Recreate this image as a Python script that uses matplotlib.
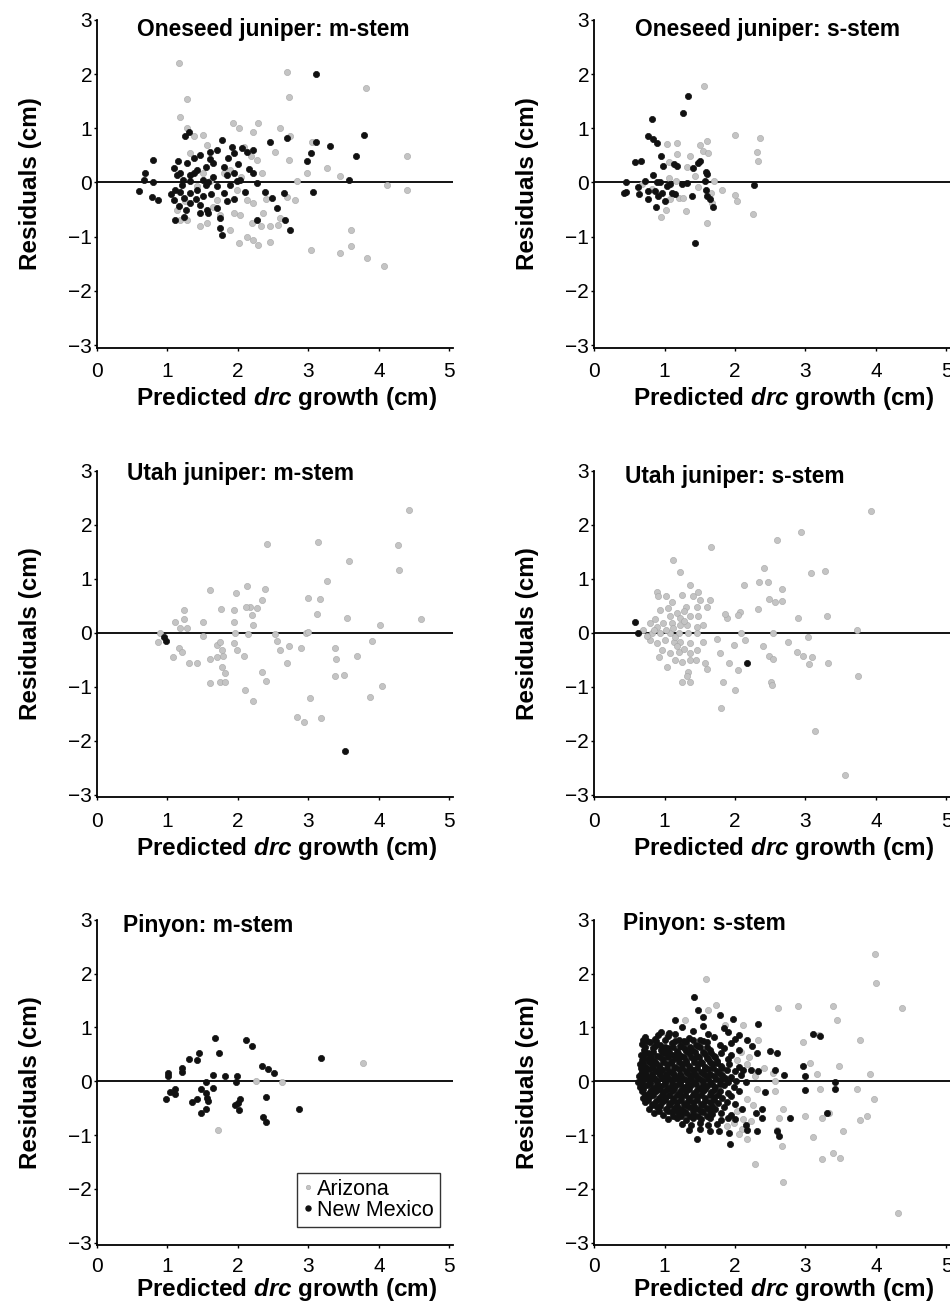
"""Residual plots for drc growth models, three species x two stem forms."""
import matplotlib
matplotlib.use("Agg")
import matplotlib.pyplot as plt
from matplotlib.lines import Line2D

plt.rcParams["font.family"] = "Liberation Sans"
plt.rcParams["mathtext.fontset"] = "custom"
plt.rcParams["mathtext.it"] = "Liberation Sans:italic:bold"

AZ_COLOR = "#c4c4c4"
AZ_EDGE = "#a6a6a6"
NM_COLOR = "#111111"

# --- Oneseed juniper, m-stem -------------------------------------------------
om_az = [(1.16, 2.20), (1.28, 1.55), (1.18, 1.20), (2.70, 2.04), (2.73, 1.57), (3.82, 1.75),
         (1.28, 1.00), (1.93, 1.10), (2.01, 1.00), (2.21, 0.94), (2.60, 1.00), (1.50, 0.88),
         (1.37, 0.85), (1.56, 0.69), (1.32, 0.54), (2.08, 0.66), (2.53, 0.57), (2.72, 0.42),
         (3.05, 0.75), (3.27, 0.26), (2.98, 0.17), (3.45, 0.12), (4.40, 0.49), (4.12, -0.04),
         (4.40, -0.13), (2.84, 0.02), (2.81, -0.32), (2.70, -0.26), (2.34, 0.17), (2.27, 0.42),
         (1.70, -0.32), (1.94, -0.56), (2.13, -0.32), (2.22, -0.38), (2.36, -0.56), (2.60, -0.66),
         (2.46, -0.81), (2.20, -0.75), (2.32, -0.81), (1.89, -0.87), (1.46, -0.81), (1.56, -0.75),
         (1.28, -0.69), (1.13, -0.50), (2.01, -1.12), (2.13, -1.01), (2.22, -1.06), (2.29, -1.15),
         (2.46, -1.09), (3.03, -1.24), (3.60, -0.87), (3.60, -1.18), (3.45, -1.31), (3.83, -1.39),
         (4.07, -1.55), (1.42, -0.07), (1.61, 0.02), (1.80, 0.17), (1.99, -0.13), (1.89, 0.23),
         (1.51, 0.17), (2.18, 0.48), (1.65, -0.45), (1.75, -0.60), (2.40, -0.30), (1.25, -0.35),
         (2.05, 0.10), (2.29, 1.10), (2.74, 0.85), (2.03, -0.60), (2.57, -0.78), (1.18, -0.69)]
om_nm = [(3.11, 2.00), (3.79, 0.88), (3.10, 0.74), (3.31, 0.67), (3.03, 0.54), (3.68, 0.48),
         (2.98, 0.40), (2.70, 0.83), (2.45, 0.74), (3.57, 0.05), (3.07, -0.17), (2.74, -0.87),
         (2.67, -0.69), (2.55, -0.47), (2.65, -0.20), (2.48, -0.29), (2.39, -0.17), (2.27, -0.70),
         (2.22, 0.18), (2.13, 0.57), (2.22, 0.60), (2.06, 0.63), (1.91, 0.66), (1.94, 0.54),
         (1.77, 0.79), (1.70, 0.60), (1.61, 0.57), (1.46, 0.51), (1.30, 0.94), (1.25, 0.85),
         (0.80, 0.42), (0.68, 0.17), (0.66, 0.05), (0.80, 0.00), (0.60, -0.15), (0.78, -0.26),
         (0.87, -0.32), (1.09, 0.26), (1.18, 0.17), (1.28, 0.36), (1.32, 0.14), (1.42, 0.23),
         (1.54, 0.29), (1.65, 0.36), (1.80, 0.29), (1.84, 0.14), (1.94, 0.17), (2.03, 0.05),
         (1.11, -0.13), (1.18, -0.17), (1.09, -0.32), (1.23, -0.29), (1.32, -0.20), (1.42, -0.13),
         (1.54, -0.04), (1.58, 0.00), (1.70, -0.07), (1.80, -0.20), (1.89, -0.04), (1.99, 0.02),
         (1.16, -0.44), (1.32, -0.38), (1.46, -0.41), (1.56, -0.50), (1.58, -0.56), (1.70, -0.47),
         (1.84, -0.35), (1.11, -0.69), (1.23, -0.63), (1.75, -0.66), (1.75, -0.84), (1.77, -0.96),
         (1.46, -0.56), (2.10, -0.18), (2.27, -0.01), (1.37, 0.17), (1.13, 0.14), (1.32, 0.02),
         (1.20, -0.05), (1.50, 0.05), (1.65, 0.10), (1.40, -0.30), (1.15, 0.40), (1.38, 0.45),
         (1.60, 0.44), (1.86, 0.45), (2.00, 0.35), (1.05, -0.22), (1.26, -0.50), (1.50, -0.25),
         (1.62, -0.22), (1.95, -0.30), (2.15, 0.25), (1.22, 0.05)]

# --- Oneseed juniper, s-stem -------------------------------------------------
os_az = [(1.56, 1.79), (2.00, 0.88), (2.35, 0.83), (2.31, 0.57), (2.33, 0.40), (1.03, 0.71),
         (1.18, 0.73), (1.18, 0.52), (1.36, 0.49), (1.51, 0.69), (1.60, 0.77), (1.55, 0.59),
         (1.62, 0.54), (1.07, 0.37), (1.32, 0.28), (1.43, 0.12), (1.06, 0.09), (1.16, 0.03),
         (1.70, 0.03), (1.81, -0.14), (2.00, -0.23), (2.03, -0.34), (2.26, -0.59), (1.60, -0.75),
         (1.67, -0.37), (1.66, -0.19), (1.31, -0.53), (1.02, -0.51), (0.95, -0.64), (1.08, -0.31),
         (1.20, -0.28), (1.26, -0.28), (0.82, -0.12), (1.48, -0.09), (0.68, -0.03)]
os_nm = [(1.33, 1.59), (0.82, 1.17), (1.26, 1.28), (0.77, 0.86), (0.84, 0.81), (0.90, 0.73),
         (0.58, 0.38), (0.67, 0.39), (0.95, 0.48), (0.98, 0.31), (1.13, 0.34), (1.18, 0.31),
         (1.51, 0.40), (1.47, 0.36), (1.41, 0.26), (1.59, 0.20), (1.60, 0.15), (0.45, 0.01),
         (0.42, -0.19), (0.46, -0.17), (0.63, -0.09), (0.64, -0.22), (0.72, 0.03), (0.83, 0.14),
         (0.77, -0.15), (0.77, -0.30), (0.87, -0.15), (0.89, 0.00), (0.94, 0.01), (0.91, -0.25),
         (0.96, -0.20), (1.01, -0.35), (0.88, -0.46), (1.08, -0.03), (1.10, -0.19), (1.15, -0.22),
         (1.25, -0.03), (1.32, -0.01), (1.39, -0.25), (1.58, 0.03), (1.59, -0.14), (1.60, -0.25),
         (1.64, -0.30), (1.69, -0.46), (1.43, -1.11), (2.27, -0.05), (1.03, -0.06)]

# --- Utah juniper, m-stem ----------------------------------------------------
um_az = [(4.43, 2.28), (4.27, 1.62), (4.28, 1.16), (4.60, 0.25), (4.01, 0.14), (3.90, -0.15),
         (3.69, -0.43), (3.38, -0.29), (3.39, -0.49), (3.38, -0.80), (3.51, -0.78), (4.04, -0.98),
         (3.88, -1.20), (3.02, -1.22), (2.84, -1.57), (2.93, -1.66), (3.18, -1.59), (3.14, 1.67),
         (3.57, 1.33), (3.27, 0.96), (3.00, 0.64), (3.17, 0.62), (3.12, 0.35), (3.55, 0.28),
         (2.97, 0.00), (3.00, 0.02), (2.89, -0.29), (2.73, -0.25), (2.69, -0.57), (2.60, -0.32),
         (2.55, -0.15), (2.53, -0.02), (2.41, 1.64), (2.38, 0.80), (2.34, 0.60), (2.27, 0.45),
         (2.20, 0.33), (2.22, 0.14), (2.17, 0.48), (2.13, 0.86), (2.12, 0.48), (1.97, 0.73),
         (1.95, 0.41), (1.95, 0.20), (1.96, 0.00), (2.14, -0.02), (1.61, 0.79), (1.76, 0.43),
         (1.50, 0.19), (1.51, -0.07), (1.24, 0.42), (1.11, 0.20), (1.23, 0.25), (1.18, 0.08),
         (1.27, 0.08), (0.90, 0.00), (0.87, -0.17), (1.08, -0.46), (1.17, -0.29), (1.20, -0.35),
         (1.30, -0.57), (1.42, -0.57), (1.70, -0.23), (1.75, -0.17), (1.77, -0.33), (1.61, -0.48),
         (1.70, -0.46), (1.79, -0.44), (1.77, -0.63), (1.81, -0.75), (1.60, -0.93), (1.75, -0.91),
         (1.82, -0.91), (1.94, -0.19), (1.98, -0.32), (2.09, -0.43), (2.10, -1.07), (2.21, -1.26),
         (2.34, -0.72), (2.40, -0.89)]
um_nm = [(0.95, -0.08), (0.98, -0.15), (3.52, -2.20)]

# --- Utah juniper, s-stem ----------------------------------------------------
us_az = [(3.93, 2.25), (2.94, 1.87), (2.59, 1.72), (1.66, 1.58), (1.12, 1.35), (1.22, 1.12),
         (2.41, 1.20), (3.08, 1.10), (3.27, 1.15), (2.13, 0.88), (2.34, 0.94), (2.47, 0.93),
         (2.67, 0.81), (2.48, 0.62), (2.57, 0.57), (2.67, 0.59), (2.33, 0.43), (2.07, 0.39),
         (2.04, 0.33), (1.89, 0.27), (1.86, 0.35), (2.90, 0.27), (3.30, 0.31), (3.73, 0.04),
         (2.54, 0.00), (2.08, 0.00), (3.04, -0.09), (2.75, -0.17), (2.88, -0.35), (2.97, -0.44),
         (3.09, -0.46), (3.05, -0.58), (3.32, -0.56), (3.75, -0.80), (2.39, -0.25), (2.48, -0.44),
         (2.54, -0.49), (2.51, -0.91), (2.52, -0.97), (2.14, -0.14), (1.99, -0.23), (1.78, -0.38),
         (1.75, -0.12), (1.91, -0.57), (2.04, -0.69), (1.83, -0.91), (2.00, -1.07), (1.80, -1.39),
         (3.14, -1.83), (3.56, -2.64),
         (0.89, 0.76), (0.91, 0.67), (1.02, 0.68), (0.94, 0.42), (1.10, 0.56), (1.25, 0.70),
         (1.36, 0.88), (1.40, 0.67), (1.48, 0.76), (1.51, 0.60), (1.65, 0.60), (1.60, 0.48),
         (1.46, 0.48), (1.31, 0.48), (1.18, 0.36), (1.08, 0.30), (1.22, 0.28), (1.36, 0.30),
         (1.48, 0.30), (0.80, 0.17), (0.89, 0.11), (0.98, 0.17), (1.10, 0.17), (1.22, 0.14),
         (1.32, 0.14), (1.46, 0.11), (1.55, 0.14), (0.70, 0.05), (0.82, -0.01), (0.94, -0.01),
         (1.08, -0.01), (1.20, 0.00), (1.34, -0.01), (1.46, -0.01), (0.80, -0.14), (0.89, -0.20),
         (1.01, -0.14), (1.13, -0.17), (1.22, -0.17), (1.36, -0.19), (1.55, -0.17), (0.96, -0.32),
         (1.08, -0.37), (1.20, -0.35), (1.36, -0.38), (1.46, -0.33), (1.03, -0.63), (1.15, -0.51),
         (1.25, -0.54), (1.36, -0.51), (1.44, -0.51), (1.58, -0.57), (1.60, -0.68), (1.34, -0.72),
         (1.25, -0.91), (1.36, -0.91), (1.32, -0.81), (0.86, 0.25), (1.02, 0.05), (1.15, -0.08),
         (1.28, 0.22), (0.75, -0.06), (1.12, 0.08), (0.92, -0.45), (1.05, 0.45), (1.28, 0.40),
         (1.18, -0.25), (1.28, -0.30), (0.85, 0.05)]
us_nm = [(0.58, 0.19), (0.63, -0.01), (2.17, -0.56)]

# --- Pinyon, m-stem ----------------------------------------------------------
pm_az = [(3.77, 0.34), (2.26, 0.01), (2.62, -0.02), (1.71, -0.90)]
pm_nm = [(1.67, 0.80), (2.12, 0.77), (2.20, 0.66), (1.31, 0.42), (1.42, 0.40), (1.45, 0.52),
         (1.73, 0.52), (1.20, 0.25), (1.21, 0.17), (1.01, 0.15), (1.01, 0.09), (1.64, 0.12),
         (1.82, 0.09), (1.98, 0.09), (1.97, -0.02), (2.34, 0.28), (2.43, 0.22), (2.51, 0.15),
         (3.18, 0.43), (1.54, -0.02), (1.03, -0.20), (1.10, -0.15), (1.10, -0.23), (0.98, -0.34),
         (1.48, -0.14), (1.54, -0.22), (1.64, -0.12), (1.56, -0.31), (1.58, -0.37), (1.35, -0.39),
         (1.42, -0.33), (1.55, -0.51), (1.47, -0.59), (2.03, -0.33), (2.00, -0.41), (1.96, -0.45),
         (2.02, -0.54), (2.40, -0.29), (2.35, -0.66), (2.40, -0.76), (2.86, -0.51)]

# --- Pinyon, s-stem ----------------------------------------------------------
ps_az = [(3.99, 2.36), (4.00, 1.82), (4.37, 1.36), (1.59, 1.90), (1.73, 1.42), (1.62, 1.33),
         (2.61, 1.35), (2.89, 1.39), (3.39, 1.39), (3.45, 1.13), (3.78, 0.76), (2.96, 0.72),
         (3.19, 0.86), (3.47, 0.28), (3.91, 0.14), (3.97, -0.34), (3.73, -0.14), (3.21, -0.15),
         (3.16, 0.14), (3.07, 0.34), (3.87, -0.64), (3.77, -0.72), (3.53, -0.93), (3.33, -0.59),
         (3.23, -0.68), (3.11, -1.03), (3.23, -1.44), (3.39, -1.34), (3.49, -1.42), (4.31, -2.44),
         (2.68, -1.87), (2.29, -1.53), (2.67, -1.20), (2.59, -0.90), (2.62, -0.68), (2.68, -0.52),
         (2.99, -0.65), (2.57, -0.19), (2.57, 0.00), (2.54, 0.15), (2.41, 0.25), (2.33, 0.77),
         (2.12, 1.05), (1.86, 1.05), (1.29, 1.14), (2.03, 0.40), (2.17, 0.31), (2.29, 0.09),
         (2.31, -0.15), (2.17, -0.34), (2.03, -0.56), (1.98, -0.77), (2.17, -1.08), (2.12, -0.71),
         (2.22, -0.74), (0.82, 0.68), (1.03, 0.86), (2.08, 0.55), (2.20, 0.45), (2.25, -0.45),
         (2.10, -0.88), (2.05, -0.98), (1.88, -0.84)]
ps_nm = [(1.42, 1.57), (1.48, 1.33), (1.55, 1.20), (1.79, 1.22), (1.97, 1.15), (2.32, 1.07),
         (1.15, 1.14), (0.70, 0.77), (0.91, 0.85), (1.06, 0.90), (3.11, 0.88), (3.20, 0.83),
         (2.97, 0.28), (3.00, 0.09), (3.00, -0.17), (3.42, -0.02), (3.42, -0.15), (3.31, -0.59),
         (2.78, -0.68), (2.63, -1.02), (2.60, -0.93), (2.49, 0.56), (2.60, 0.52), (2.57, 0.20),
         (2.69, 0.12), (2.43, -0.20), (2.31, -0.93), (2.17, -0.90), (1.93, -1.17), (1.91, -0.96),
         (1.46, -1.08), (1.77, -0.93), (2.38, -0.52), (2.38, -0.68), (2.33, 0.19), (2.22, 0.20),
         (2.31, 0.52), (2.17, 0.77), (2.24, 0.65),
         # dense core of the cloud
         (1.25, 1.00), (1.55, 1.02), (1.85, 0.98),
         (0.95, 0.92), (1.15, 0.88), (1.40, 0.93), (1.62, 0.87), (1.90, 0.91), (2.05, 0.86),
         (0.72, 0.82), (0.86, 0.78), (1.05, 0.83), (1.21, 0.77), (1.35, 0.81), (1.50, 0.76),
         (1.70, 0.82), (2.00, 0.78),
         (0.68, 0.69), (0.79, 0.72), (0.93, 0.67), (1.10, 0.71), (1.22, 0.66), (1.31, 0.72),
         (1.45, 0.68), (1.60, 0.73), (1.78, 0.67), (1.95, 0.70),
         (0.71, 0.58), (0.83, 0.62), (0.95, 0.57), (1.05, 0.61), (1.17, 0.56), (1.28, 0.62),
         (1.39, 0.58), (1.50, 0.63), (1.65, 0.57), (1.85, 0.61), (2.05, 0.58),
         (0.66, 0.48), (0.77, 0.52), (0.89, 0.47), (1.00, 0.53), (1.12, 0.49), (1.24, 0.46),
         (1.35, 0.52), (1.46, 0.47), (1.58, 0.51), (1.70, 0.46), (1.80, 0.52), (1.95, 0.48),
         (0.68, 0.39), (0.76, 0.42), (0.85, 0.37), (0.98, 0.41), (1.10, 0.38), (1.21, 0.43),
         (1.30, 0.37), (1.42, 0.41), (1.52, 0.36), (1.62, 0.42), (1.75, 0.38), (1.90, 0.41),
         (0.65, 0.31), (0.72, 0.27), (0.82, 0.32), (0.92, 0.28), (1.03, 0.31), (1.15, 0.27),
         (1.25, 0.32), (1.35, 0.28), (1.48, 0.31), (1.58, 0.26), (1.68, 0.32), (1.80, 0.28),
         (1.92, 0.31), (2.05, 0.27),
         (0.68, 0.19), (0.78, 0.22), (0.88, 0.18), (0.97, 0.21), (1.08, 0.17), (1.20, 0.22),
         (1.30, 0.18), (1.40, 0.21), (1.52, 0.17), (1.62, 0.22), (1.75, 0.19), (1.88, 0.21),
         (2.00, 0.18), (2.12, 0.21),
         (0.64, 0.09), (0.74, 0.12), (0.84, 0.08), (0.94, 0.11), (1.04, 0.07), (1.14, 0.12),
         (1.24, 0.09), (1.36, 0.11), (1.46, 0.08), (1.58, 0.12), (1.70, 0.09), (1.82, 0.11),
         (1.95, 0.08), (2.08, 0.11),
         (0.62, -0.01), (0.70, 0.02), (0.80, -0.02), (0.90, 0.01), (1.00, -0.02), (1.10, 0.02),
         (1.22, -0.01), (1.32, 0.02), (1.42, -0.02), (1.55, 0.01), (1.65, -0.02), (1.78, 0.02),
         (1.90, -0.01), (2.02, 0.01), (2.15, -0.02),
         (0.65, -0.11), (0.75, -0.08), (0.85, -0.12), (0.95, -0.09), (1.06, -0.12), (1.16, -0.08),
         (1.28, -0.11), (1.38, -0.08), (1.50, -0.12), (1.60, -0.09), (1.72, -0.11), (1.85, -0.08),
         (1.98, -0.11),
         (0.68, -0.19), (0.78, -0.22), (0.88, -0.18), (0.98, -0.21), (1.10, -0.18), (1.20, -0.22),
         (1.30, -0.19), (1.42, -0.22), (1.55, -0.18), (1.66, -0.21), (1.78, -0.19), (1.90, -0.22),
         (2.05, -0.19),
         (0.70, -0.31), (0.80, -0.28), (0.92, -0.32), (1.02, -0.29), (1.12, -0.31), (1.24, -0.28),
         (1.35, -0.32), (1.46, -0.28), (1.58, -0.31), (1.70, -0.29), (1.82, -0.32), (1.95, -0.28),
         (0.72, -0.39), (0.84, -0.42), (0.96, -0.38), (1.08, -0.41), (1.18, -0.38), (1.28, -0.42),
         (1.40, -0.39), (1.52, -0.42), (1.64, -0.38), (1.76, -0.41), (1.88, -0.39), (2.00, -0.42),
         (0.78, -0.51), (0.90, -0.48), (1.02, -0.52), (1.14, -0.49), (1.24, -0.51), (1.35, -0.48),
         (1.48, -0.52), (1.60, -0.49), (1.72, -0.51), (1.85, -0.48), (2.10, -0.51),
         (0.85, -0.59), (0.98, -0.62), (1.10, -0.58), (1.20, -0.61), (1.30, -0.59), (1.42, -0.62),
         (1.55, -0.58), (1.68, -0.61), (1.80, -0.59), (1.95, -0.62), (2.30, -0.60),
         (1.05, -0.71), (1.18, -0.68), (1.30, -0.72), (1.40, -0.69), (1.52, -0.71), (1.65, -0.68),
         (1.80, -0.72), (1.90, -0.69), (2.00, -0.71),
         (1.25, -0.79), (1.38, -0.82), (1.50, -0.78), (1.62, -0.81), (1.75, -0.79), (2.15, -0.82),
         (1.35, -0.91), (1.50, -0.88), (1.65, -0.92),
         # in-between dots filling the solid part of the cloud
         (0.75, 0.75), (0.88, 0.74), (1.00, 0.76), (1.15, 0.75), (1.28, 0.74), (1.40, 0.76),
         (1.55, 0.74),
         (0.73, 0.64), (0.87, 0.65), (1.00, 0.63), (1.12, 0.64), (1.24, 0.65), (1.36, 0.64),
         (1.48, 0.66), (1.60, 0.64),
         (0.72, 0.53), (0.84, 0.55), (0.96, 0.54), (1.07, 0.55), (1.19, 0.53), (1.31, 0.56),
         (1.43, 0.54), (1.55, 0.55), (1.66, 0.53),
         (0.70, 0.44), (0.81, 0.45), (0.93, 0.44), (1.05, 0.45), (1.16, 0.43), (1.27, 0.45),
         (1.38, 0.44), (1.49, 0.45), (1.60, 0.43), (1.71, 0.44),
         (0.69, 0.34), (0.78, 0.35), (0.88, 0.34), (0.98, 0.35), (1.09, 0.34), (1.20, 0.36),
         (1.31, 0.34), (1.42, 0.35), (1.53, 0.34), (1.64, 0.35), (1.75, 0.34),
         (0.66, 0.24), (0.74, 0.25), (0.83, 0.24), (0.93, 0.25), (1.03, 0.24), (1.14, 0.25),
         (1.25, 0.24), (1.36, 0.25), (1.46, 0.24), (1.57, 0.25), (1.69, 0.24), (1.82, 0.25),
         (0.66, 0.14), (0.73, 0.15), (0.82, 0.14), (0.92, 0.15), (1.02, 0.14), (1.12, 0.15),
         (1.22, 0.14), (1.32, 0.15), (1.43, 0.14), (1.54, 0.15), (1.65, 0.14), (1.77, 0.15),
         (0.66, 0.04), (0.76, 0.05), (0.86, 0.04), (0.96, 0.05), (1.06, 0.04), (1.17, 0.05),
         (1.28, 0.04), (1.38, 0.05), (1.50, 0.04), (1.61, 0.05), (1.73, 0.04), (1.86, 0.05),
         (0.68, -0.05), (0.79, -0.06), (0.89, -0.05), (1.00, -0.06), (1.11, -0.05), (1.22, -0.06),
         (1.33, -0.05), (1.45, -0.06), (1.55, -0.05), (1.67, -0.06), (1.79, -0.05),
         (0.70, -0.15), (0.81, -0.16), (0.92, -0.15), (1.02, -0.16), (1.13, -0.15), (1.24, -0.16),
         (1.35, -0.15), (1.46, -0.16), (1.58, -0.15), (1.70, -0.16),
         (0.73, -0.25), (0.84, -0.25), (0.96, -0.26), (1.07, -0.25), (1.17, -0.26), (1.29, -0.25),
         (1.40, -0.26), (1.52, -0.25), (1.64, -0.26), (1.76, -0.25),
         (0.76, -0.35), (0.88, -0.36), (1.00, -0.35), (1.12, -0.36), (1.23, -0.35), (1.34, -0.36),
         (1.46, -0.35), (1.58, -0.36), (1.70, -0.35),
         (0.82, -0.45), (0.94, -0.46), (1.06, -0.45), (1.18, -0.46), (1.30, -0.45), (1.42, -0.46),
         (1.55, -0.45), (1.67, -0.46),
         (0.92, -0.55), (1.05, -0.56), (1.17, -0.55), (1.28, -0.56), (1.40, -0.55), (1.52, -0.56),
         (1.64, -0.55),
         (1.12, -0.64), (1.24, -0.65), (1.36, -0.64), (1.48, -0.65), (1.60, -0.64)]

PANELS = [
    ("Oneseed juniper: m-stem", om_az, om_nm, (0.57, 2.82)),
    ("Oneseed juniper: s-stem", os_az, os_nm, (0.58, 2.82)),
    ("Utah juniper: m-stem", um_az, um_nm, (0.43, 2.94)),
    ("Utah juniper: s-stem", us_az, us_nm, (0.44, 2.90)),
    ("Pinyon: m-stem", pm_az, pm_nm, (0.37, 2.90)),
    ("Pinyon: s-stem", ps_az, ps_nm, (0.41, 2.92)),
]

# figure-fraction boxes (left, bottom, width, height)
COL_LEFT = [0.1021, 0.6253]
ROW_BOX = [(0.7331, 0.2516), (0.3881, 0.2507), (0.0442, 0.2500)]
WIDTH = 0.3747
XTICK_PAD = [8, 8, 6]
XLABEL_Y = [-0.115, -0.115, -0.093]


def draw(ax, row, title, az, nm, tpos):
    ax.axhline(0, color="black", lw=1.3, zorder=1)
    ax.scatter([p[0] for p in az], [p[1] for p in az], s=20, c=AZ_COLOR,
               edgecolors=AZ_EDGE, linewidths=0.4, zorder=2)
    ax.scatter([p[0] for p in nm], [p[1] for p in nm], s=20, c=NM_COLOR,
               edgecolors=NM_COLOR, linewidths=0.5, zorder=3)
    ax.set_xlim(0, 5.05)
    ax.set_ylim(-3.05, 3.0)
    ax.set_xticks(range(0, 6))
    ax.set_yticks(range(-3, 4))
    for s in ("top", "right"):
        ax.spines[s].set_visible(False)
    for s in ("left", "bottom"):
        ax.spines[s].set_linewidth(1.3)
    ax.tick_params(axis="both", direction="out", length=2.5, width=1.0, labelsize=15)
    ax.tick_params(axis="x", pad=XTICK_PAD[row])
    ax.tick_params(axis="y", pad=1)
    ax.text(tpos[0], tpos[1], title, fontsize=16.4, fontweight="bold", va="center", ha="left")
    ax.set_ylabel("Residuals (cm)", fontsize=17.5, fontweight="bold")
    ax.yaxis.set_label_coords(-0.155, 0.5)
    ax.set_xlabel(r"Predicted $\mathit{drc}$ growth (cm)", fontsize=17.5, fontweight="bold")
    ax.xaxis.set_label_coords(0.532, XLABEL_Y[row])


fig = plt.figure(figsize=(9.5, 13.03), dpi=100)
for i, (title, az, nm, tpos) in enumerate(PANELS):
    row, col = divmod(i, 2)
    bottom, height = ROW_BOX[row]
    ax = fig.add_axes([COL_LEFT[col], bottom, WIDTH, height])
    draw(ax, row, title, az, nm, tpos)
    if i == 4:
        handles = [
            Line2D([], [], ls="none", marker="o", ms=3.2, mfc=AZ_COLOR, mec=AZ_EDGE, mew=0.4),
            Line2D([], [], ls="none", marker="o", ms=3.6, mfc=NM_COLOR, mec=NM_COLOR),
        ]
        leg = ax.legend(handles, ["Arizona", "New Mexico"], loc="lower right",
                        bbox_to_anchor=(0.963, 0.055), borderaxespad=0, fontsize=15.5,
                        frameon=True, fancybox=False, edgecolor="black",
                        handlelength=0.4, handletextpad=0.2, borderpad=0.3,
                        labelspacing=0.0)
        leg.get_frame().set_linewidth(1.0)

fig.savefig("out.png", dpi=100, facecolor="white")
